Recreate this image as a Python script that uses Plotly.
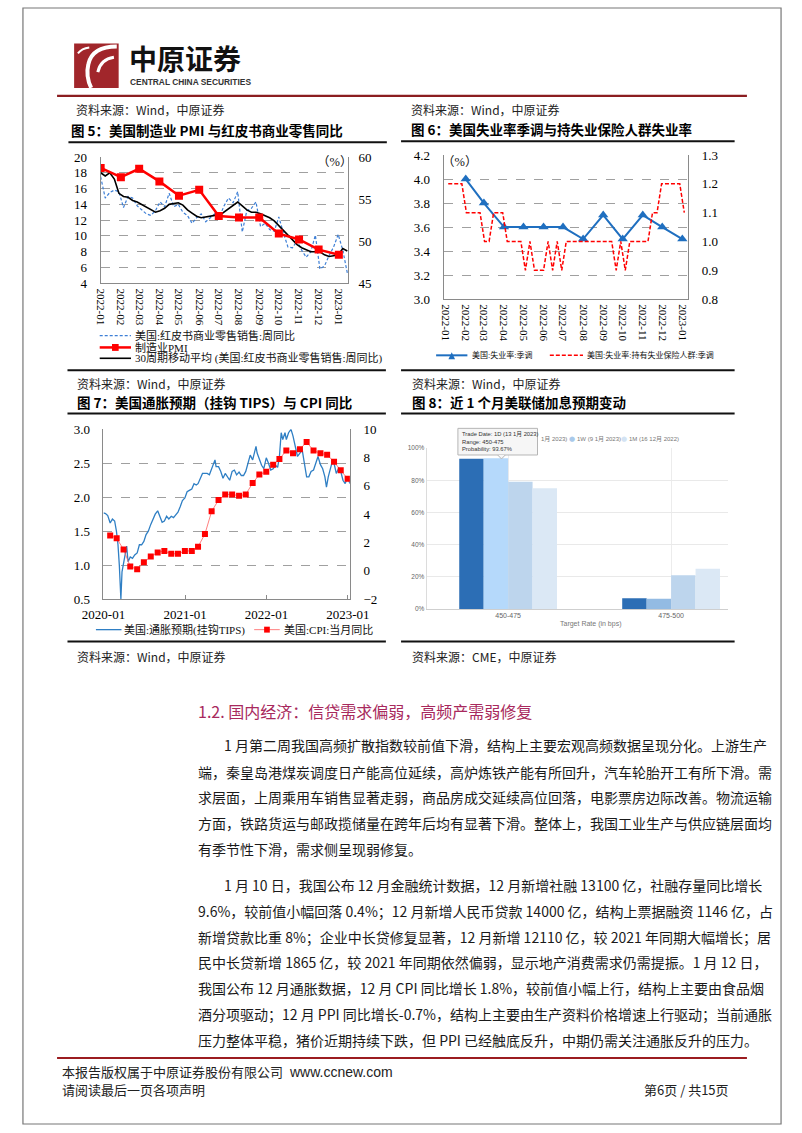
import plotly.graph_objects as go
import pandas as pd

W, H = 802, 1133
def X(px): return px / W
def Y(py): return 1 - py / H

# ---------------- DATA ----------------
# Fig 5: Redbook weekly YoY, its moving average, ISM manufacturing PMI
redbook_dates = pd.date_range('2022-01-01', periods=55, freq='7D')
redbook_yoy = [17.5, 14.8, 15.5, 15.8, 15.6, 13.6, 15.0, 14.8, 13.8, 13.3,
               12.8, 12.6, 13.2, 14.3, 13.7, 15.4, 13.7, 14.0, 13.0, 12.6,
               11.6, 12.3, 12.8, 11.8, 12.3, 12.8, 12.4, 13.8, 14.8, 14.2,
               15.6, 10.5, 13.2, 13.5, 14.3, 11.2, 11.6, 10.8, 10.6, 12.4,
               10.4, 8.6, 8.5, 9.4, 8.2, 7.3, 8.0, 10.1, 5.8, 6.2,
               7.5, 8.6, 10.2, 8.2, 5.3]
redbook_ma30 = [18.0, 17.6, 18.0, 17.2, 15.4, 15.0, 14.9, 14.5, 14.3, 14.0,
                13.7, 13.4, 13.0, 13.2, 13.5, 14.0, 14.1, 14.2, 13.9, 13.3,
                12.9, 12.5, 12.3, 12.4, 12.5, 12.6, 12.6, 13.0, 13.4, 13.8,
                14.3, 13.8, 13.3, 13.0, 13.0, 12.8, 12.6, 12.3, 11.9, 11.3,
                10.7, 10.1, 9.5, 8.9, 8.5, 8.2, 8.0, 8.0, 8.0, 7.6,
                7.4, 7.5, 7.6, 8.4, 8.1]
pmi_dates = pd.date_range('2022-01-01', periods=13, freq='MS')
pmi = [58.7, 57.6, 58.6, 57.1, 55.4, 56.1, 53.0, 52.8, 52.8, 50.9, 50.2, 49.0, 48.4]

# Fig 6: unemployment rate (SA) and insured unemployment rate (SA)
unemp_dates = pd.date_range('2022-02-01', periods=12, freq='MS')
unemp = [4.0, 3.8, 3.6, 3.6, 3.6, 3.6, 3.5, 3.7, 3.5, 3.7, 3.6, 3.5]
insured_dates = pd.date_range('2022-01-05', periods=53, freq='7D')
insured = [1.2, 1.2, 1.2, 1.2, 1.1, 1.1, 1.1, 1.1, 1.0, 1.0,
           1.1, 1.1, 1.1, 1.0, 1.0, 1.0, 1.0, 0.9, 1.0, 0.9,
           0.9, 0.9, 1.0, 0.9, 1.0, 0.9, 1.0, 1.0, 1.0, 1.0,
           1.0, 1.0, 1.0, 1.0, 1.0, 1.0, 1.0, 0.9, 1.0, 0.9,
           1.0, 1.0, 1.0, 1.0, 1.0, 1.1, 1.1, 1.2, 1.2, 1.2,
           1.2, 1.2, 1.1]
month_ticks_22 = pd.date_range('2022-01-01', periods=13, freq='MS')

# Fig 7: TIPS breakeven inflation and CPI YoY
tips_dates = ['2020-01-01', '2020-01-10', '2020-01-20', '2020-01-31', '2020-02-10', '2020-02-20',
              '2020-02-28', '2020-03-06', '2020-03-12', '2020-03-19', '2020-03-24', '2020-03-31',
              '2020-04-08', '2020-04-14', '2020-04-20', '2020-04-30', '2020-05-10', '2020-05-20',
              '2020-05-31', '2020-06-10', '2020-06-20', '2020-06-30', '2020-07-10', '2020-07-20',
              '2020-07-31', '2020-08-10', '2020-08-20', '2020-08-31', '2020-09-10', '2020-09-20',
              '2020-09-30', '2020-10-10', '2020-10-20', '2020-10-31', '2020-11-10', '2020-11-20',
              '2020-11-30', '2020-12-10', '2020-12-20', '2020-12-31', '2021-01-10', '2021-01-20',
              '2021-01-31', '2021-02-10', '2021-02-20', '2021-02-28', '2021-03-10', '2021-03-20',
              '2021-03-31', '2021-04-10', '2021-04-20', '2021-04-30', '2021-05-10', '2021-05-15',
              '2021-05-20', '2021-05-31', '2021-06-10', '2021-06-20', '2021-06-30', '2021-07-10',
              '2021-07-20', '2021-07-31', '2021-08-10', '2021-08-20', '2021-08-31', '2021-09-10',
              '2021-09-20', '2021-09-30', '2021-10-10', '2021-10-20', '2021-10-31', '2021-11-10',
              '2021-11-15', '2021-11-20', '2021-11-30', '2021-12-10', '2021-12-20', '2021-12-31',
              '2022-01-10', '2022-01-20', '2022-01-31', '2022-02-10', '2022-02-20', '2022-02-28',
              '2022-03-08', '2022-03-15', '2022-03-25', '2022-03-31', '2022-04-10', '2022-04-21',
              '2022-04-30', '2022-05-10', '2022-05-20', '2022-05-31', '2022-06-10', '2022-06-20',
              '2022-06-30', '2022-07-10', '2022-07-20', '2022-07-31', '2022-08-10', '2022-08-20',
              '2022-08-31', '2022-09-10', '2022-09-20', '2022-09-27', '2022-10-05', '2022-10-15',
              '2022-10-25', '2022-10-31', '2022-11-10', '2022-11-20', '2022-11-30', '2022-12-10',
              '2022-12-20', '2022-12-31', '2023-01-10']
tips = [1.77, 1.76, 1.73, 1.62, 1.68, 1.65,
        1.50, 1.30, 1.00, 0.50, 0.90, 1.05,
        1.15, 1.28, 1.05, 1.12, 1.10, 1.15,
        1.18, 1.30, 1.30, 1.35, 1.45, 1.50,
        1.60, 1.68, 1.75, 1.80, 1.70, 1.63,
        1.65, 1.72, 1.68, 1.72, 1.70, 1.75,
        1.78, 1.86, 1.95, 1.99, 2.08, 2.10,
        2.12, 2.20, 2.18, 2.20, 2.28, 2.35,
        2.35, 2.35, 2.33, 2.42, 2.50, 2.55,
        2.45, 2.45, 2.38, 2.28, 2.35, 2.30,
        2.25, 2.38, 2.40, 2.33, 2.37, 2.32,
        2.32, 2.38, 2.50, 2.62, 2.55, 2.68,
        2.75, 2.65, 2.55, 2.47, 2.42, 2.58,
        2.50, 2.40, 2.42, 2.47, 2.44, 2.60,
        2.95, 2.85, 2.95, 2.85, 2.95, 3.00,
        2.90, 2.75, 2.60, 2.65, 2.70, 2.50,
        2.30, 2.30, 2.38, 2.40, 2.50, 2.60,
        2.48, 2.42, 2.30, 2.15, 2.30, 2.45,
        2.55, 2.50, 2.35, 2.42, 2.38, 2.25,
        2.20, 2.30, 2.20]
cpi_dates = pd.date_range('2020-01-01', periods=36, freq='MS') + pd.offsets.MonthEnd(0)
cpi = [2.5, 2.3, 1.5, 0.3, 0.1, 0.6, 1.0, 1.3, 1.4, 1.2, 1.2, 1.4,
       1.4, 1.7, 2.6, 4.2, 5.0, 5.4, 5.4, 5.3, 5.4, 6.2, 6.8, 7.0,
       7.5, 7.9, 8.5, 8.3, 8.6, 9.1, 8.5, 8.3, 8.2, 7.7, 7.1, 6.5]
year_ticks = ['2020-01-01', '2021-01-01', '2022-01-01', '2023-01-01']

# Fig 8: CME FedWatch target-rate probabilities (%)
rate_bins = ['450-475', '475-500']
prob_now = [93.3, 6.7]
prob_1d = [93.67, 6.33]
prob_1w = [79.0, 21.0]
prob_1m = [75.1, 24.9]

# ---------------- STYLE ----------------
SERIF = 'Liberation Serif, Noto Sans CJK SC'
CJK = 'Noto Sans CJK SC'
tickf = dict(family='Liberation Serif', size=13, color='black')
datef = dict(family='Liberation Serif', size=11, color='black')
GRID = '#a0a0a0'
AXL = '#8a8a8a'

fig = go.Figure()

# Fig 5 traces
fig.add_trace(go.Scatter(x=redbook_dates, y=redbook_yoy, mode='lines',
                         line=dict(color='#3d7fd6', width=1.2, dash='3px,2px'),
                         xaxis='x', yaxis='y'))
fig.add_trace(go.Scatter(x=redbook_dates, y=redbook_ma30, mode='lines',
                         line=dict(color='black', width=1.6), xaxis='x', yaxis='y'))
fig.add_trace(go.Scatter(x=pmi_dates, y=pmi, mode='lines+markers',
                         line=dict(color='#ff0000', width=2.5),
                         marker=dict(symbol='square', size=8, color='#ff0000'),
                         xaxis='x', yaxis='y2'))
# Fig 6 traces
fig.add_trace(go.Scatter(x=insured_dates, y=insured, mode='lines',
                         line=dict(color='#ff0000', width=1.5, dash='4px,2px'),
                         xaxis='x2', yaxis='y4'))
fig.add_trace(go.Scatter(x=unemp_dates, y=unemp, mode='lines+markers',
                         line=dict(color='#1f6fc0', width=2),
                         marker=dict(symbol='triangle-up', size=9, color='#1f6fc0'),
                         xaxis='x2', yaxis='y3'))
# Fig 7 traces
fig.add_trace(go.Scatter(x=tips_dates, y=tips, mode='lines',
                         line=dict(color='#2f7fc4', width=1.3), xaxis='x3', yaxis='y5'))
fig.add_trace(go.Scatter(x=cpi_dates, y=cpi, mode='lines+markers',
                         line=dict(color='#ff6060', width=0.8),
                         marker=dict(symbol='square', size=6, color='#ff0000'),
                         xaxis='x3', yaxis='y6'))
# Fig 8 bars
for vals, col in [(prob_now, '#2c6eb5'), (prob_1d, ['#b5d9fb', '#93bbe3']),
                  (prob_1w, '#bdd5ed'), (prob_1m, '#dbe8f5')]:
    fig.add_trace(go.Bar(x=rate_bins, y=vals, marker=dict(color=col, line=dict(width=0)),
                         xaxis='x4', yaxis='y7'))

common_y = dict(zeroline=False, showline=True, linecolor=AXL, linewidth=1, tickfont=tickf,
                ticks='')
layout = dict(
    autosize=True, margin=dict(l=0, r=0, t=0, b=0, pad=0),
    paper_bgcolor='white', plot_bgcolor='white', showlegend=False,
    barmode='group', bargap=0.4, bargroupgap=0,
    # Fig 5
    xaxis=dict(domain=[X(83), X(344)], anchor='y', type='date',
               range=['2022-01-01', '2023-01-15'], tickvals=list(month_ticks_22),
               tickformat='%Y-%m', tickangle=90, tickfont=datef, showline=True,
               linecolor=AXL, showgrid=False, zeroline=False, ticks='', ticklabelstandoff=2),
    yaxis=dict(domain=[Y(280), Y(152)], anchor='x', range=[4, 20], dtick=2,
               showgrid=True, gridcolor=GRID, griddash='dash', ticklabelstandoff=10, **common_y),
    yaxis2=dict(overlaying='y', side='right', anchor='x', range=[45, 60], dtick=5,
                showgrid=False, ticklabelstandoff=7, **common_y),
    # Fig 6
    xaxis2=dict(domain=[X(445), X(703)], anchor='y3', type='date',
                range=['2021-12-29', '2023-01-10'], tickvals=list(month_ticks_22),
                tickformat='%Y-%m', tickangle=90, tickfont=datef, showline=True,
                linecolor=AXL, showgrid=False, zeroline=False, ticks='', ticklabelstandoff=2),
    yaxis3=dict(domain=[Y(296), Y(150)], anchor='x2', range=[3.0, 4.2], dtick=0.2,
                tickformat='.1f', showgrid=True, gridcolor=GRID, griddash='dash',
                ticklabelstandoff=10, **common_y),
    yaxis4=dict(overlaying='y3', side='right', anchor='x2', range=[0.8, 1.3], dtick=0.1,
                tickformat='.1f', showgrid=False, ticklabelstandoff=10, **common_y),
    # Fig 7
    xaxis3=dict(domain=[X(86), X(346)], anchor='y5', type='date',
                range=['2020-01-01', '2023-01-10'], tickvals=year_ticks,
                tickformat='%Y-%m', tickangle=0,
                tickfont=dict(family='Liberation Serif', size=13, color='black'),
                showline=True, linecolor=AXL, showgrid=False, zeroline=False,
                ticks='inside', ticklen=4, tickcolor=AXL, ticklabelstandoff=3),
    yaxis5=dict(domain=[Y(600), Y(428)], anchor='x3', range=[0.5, 3.0], dtick=0.5,
                tickformat='.1f', showgrid=True, gridcolor=GRID, griddash='dash',
                ticklabelstandoff=10, **common_y),
    yaxis6=dict(overlaying='y5', side='right', anchor='x3', range=[-2, 10], dtick=2,
                showgrid=False, ticklabelstandoff=10, **common_y),
    # Fig 8
    xaxis4=dict(domain=[X(427), X(745)], anchor='y7', type='category', range=[-0.5, 1.349],
                tickfont=dict(family='Liberation Sans', size=7, color='#666'), showline=True,
                linecolor='#cfcfcf', showgrid=True, gridcolor='#ececec', ticks='', zeroline=False),
    yaxis7=dict(domain=[Y(610), Y(447)], anchor='x4', range=[0, 100], dtick=20, ticksuffix='%',
                tickfont=dict(family='Liberation Sans', size=6.5, color='#666'), showgrid=True,
                gridcolor='#e9e9e9', showline=True, linecolor='#dcdcdc', zeroline=False, ticks=''),
)
fig.update_layout(**layout)

shapes = []
annos = []

def hline(x0, x1, y, color='#111', width=2, dash=None):
    d = dict(type='line', xref='paper', yref='paper', x0=X(x0), x1=X(x1), y0=Y(y), y1=Y(y),
             line=dict(color=color, width=width))
    if dash:
        d['line']['dash'] = dash
    shapes.append(d)

def rect(x0, y0, x1, y1, fill, line=None, lw=0):
    shapes.append(dict(type='rect', xref='paper', yref='paper', x0=X(x0), x1=X(x1),
                       y0=Y(y1), y1=Y(y0), fillcolor=fill,
                       line=dict(color=line or fill, width=lw)))

def path(pts, color, width=0, fill=None, close=False):
    s = 'M ' + ' L '.join(f'{X(a):.5f},{Y(b):.5f}' for a, b in pts)
    if close:
        s += ' Z'
    shapes.append(dict(type='path', xref='paper', yref='paper', path=s,
                       fillcolor=fill if fill else 'rgba(0,0,0,0)',
                       line=dict(color=color, width=width)))

def qpath(cmds, color, width):
    parts = []
    for c in cmds:
        if c[0] == 'M':
            parts.append(f'M {X(c[1]):.5f},{Y(c[2]):.5f}')
        else:
            parts.append(f'Q {X(c[1]):.5f},{Y(c[2]):.5f} {X(c[3]):.5f},{Y(c[4]):.5f}')
    shapes.append(dict(type='path', xref='paper', yref='paper', path=' '.join(parts),
                       line=dict(color=color, width=width)))

def txt(x, y, s, size=12, color='#111', family=CJK, xanchor='left', yanchor='middle', align='left'):
    annos.append(dict(xref='paper', yref='paper', x=X(x), y=Y(y), text=s, showarrow=False,
                      xanchor=xanchor, yanchor=yanchor, align=align, borderpad=0,
                      font=dict(size=size, color=color, family=family)))

# page border
shapes.append(dict(type='rect', xref='paper', yref='paper', x0=X(1), x1=X(801), y0=Y(1132), y1=Y(1),
                   line=dict(color='#777', width=1.2)))

# header logo
rect(55, 37, 102, 82, '#a1262b')
qpath([('M', 100, 40), ('Q', 74, 40, 70, 58), ('Q', 67, 70, 73, 82)], 'white', 4)
qpath([('M', 97, 51), ('Q', 83, 53, 80, 66)], 'white', 3)
qpath([('M', 59, 47), ('Q', 63, 42, 71, 41)], 'white', 2)
txt(112, 52, '<b>中原证券</b>', size=28, color='#111', family=CJK)
txt(113, 76.5, '<b>CENTRAL CHINA SECURITIES</b>', size=8.4, color='#333', family='Liberation Sans')
hline(37, 765, 90, color='#8b1d20', width=2.2)

# row 1 captions
txt(56, 104, '资料来源：Wind，中原证券', size=12, color='#222')
txt(409, 104, '资料来源：Wind，中原证券', size=12, color='#222')
txt(51, 125, '<b>图 5：美国制造业 PMI 与红皮书商业零售同比</b>', size=13.5, color='#000')
txt(409, 124, '<b>图 6：美国失业率季调与持失业保险人群失业率</b>', size=13.5, color='#000')
hline(49, 385, 137)
hline(400, 752, 136)

# Fig 5 extras
txt(330, 157, '（%）', size=12.5, color='#111', family=SERIF, xanchor='center')
hline(82, 115, 333, color='#3d7fd6', width=1.2, dash='3px,2px')
hline(82, 115, 345, color='#ff0000', width=2.5)
rect(95, 341.5, 102, 348.5, '#ff0000')
hline(82, 115, 356, color='black', width=1.6)
txt(118, 333, '美国:红皮书商业零售销售:周同比', size=11, family=SERIF)
txt(118, 345, '制造业PMI', size=11, family=SERIF)
txt(118, 356, '30周期移动平均 (美国:红皮书商业零售销售:周同比)', size=11, family=SERIF)

# Fig 6 extras
txt(462, 157, '（%）', size=12.5, color='#111', family=SERIF, xanchor='center')
hline(437, 470, 353, color='#1f6fc0', width=2)
path([(450, 357), (457, 357), (453.5, 350)], '#1f6fc0', 0, fill='#1f6fc0', close=True)
txt(474, 353, '美国:失业率:季调', size=8, family=SERIF)
hline(557, 592, 353, color='#ff0000', width=1.5, dash='4px,2px')
txt(595, 353, '美国:失业率:持有失业保险人群:季调', size=8, family=SERIF)

hline(48, 384, 368)
hline(400, 752, 368)

# row 2 captions
txt(57, 382, '资料来源：Wind，中原证券', size=12, color='#222')
txt(410, 382, '资料来源：Wind，中原证券', size=12, color='#222')
txt(57, 400, '<b>图 7：美国通胀预期（挂钩 TIPS）与 CPI 同比</b>', size=13.5, color='#000')
txt(410, 400, '<b>图 8：近 1 个月美联储加息预期变动</b>', size=13.5, color='#000')
hline(48, 384, 412)
hline(400, 752, 412)

# Fig 7 legend
hline(78, 105, 631, color='#2f7fc4', width=1.3)
txt(107, 631, '美国:通胀预期(挂钩TIPS)', size=11, family=SERIF)
hline(245, 272, 631, color='#ff6060', width=0.8)
rect(255.5, 628, 261.5, 634, '#ff0000')
txt(275, 631, '美国:CPI:当月同比', size=11, family=SERIF)

# Fig 8 extras
LF = 'Liberation Sans, Noto Sans CJK SC'
txt(600, 625, 'Target Rate (in bps)', size=7, color='#777', family=LF, xanchor='center')
txt(547, 438, '1月 2023)', size=6, color='#777', family=LF)
txt(580, 438, '●', size=7, color='#a9c9ea', family='DejaVu Sans', xanchor='center')
txt(585, 438, '1W (9 1月 2023)', size=6, color='#777', family=LF)
txt(635, 438, '●', size=7, color='#d3e3f3', family='DejaVu Sans', xanchor='center')
txt(640, 438, '1M (16 12月 2022)', size=6, color='#777', family=LF)
rect(460, 427, 544, 454, '#f6f6f6', line='#b5b5b5', lw=1)
path([(502, 454), (506, 458), (510, 454)], '#b5b5b5', 1, fill='#f6f6f6')
txt(463, 429, 'Trade Date: 1D (13 1月 2023)<br>Range: 450-475<br>Probability: 93.67%',
    size=5.8, color='#333', family=LF, yanchor='top')

hline(48, 384, 643)
hline(400, 752, 643)
txt(57, 658, '资料来源：Wind，中原证券', size=12, color='#222')
txt(410, 658, '资料来源：CME，中原证券', size=12, color='#222')

# section title & body text
txt(185, 713, '1.2. 国内经济：信贷需求偏弱，高频产需弱修复', size=16, color='#a8295d')
body = [
    (212, 748, '1 月第二周我国高频扩散指数较前值下滑，结构上主要宏观高频数据呈现分化。上游生产'),
    (185, 775, '端，秦皇岛港煤炭调度日产能高位延续，高炉炼铁产能有所回升，汽车轮胎开工有所下滑。需'),
    (185, 801, '求层面，上周乘用车销售显著走弱，商品房成交延续高位回落，电影票房边际改善。物流运输'),
    (185, 827, '方面，铁路货运与邮政揽储量在跨年后均有显著下滑。整体上，我国工业生产与供应链层面均'),
    (185, 853, '有季节性下滑，需求侧呈现弱修复。'),
    (212, 890, '1 月 10 日，我国公布 12 月金融统计数据，12 月新增社融 13100 亿，社融存量同比增长'),
    (185, 916, '9.6%，较前值小幅回落 0.4%；12 月新增人民币贷款 14000 亿，结构上票据融资 1146 亿，占'),
    (185, 942, '新增贷款比重 8%；企业中长贷修复显著，12 月新增 12110 亿，较 2021 年同期大幅增长；居'),
    (185, 968, '民中长贷新增 1865 亿，较 2021 年同期依然偏弱，显示地产消费需求仍需提振。1 月 12 日，'),
    (185, 994, '我国公布 12 月通胀数据，12 月 CPI 同比增长 1.8%，较前值小幅上行，结构上主要由食品烟'),
    (185, 1021, '酒分项驱动；12 月 PPI 同比增长-0.7%，结构上主要由生产资料价格增速上行驱动；当前通胀'),
    (185, 1047, '压力整体平稳，猪价近期持续下跌，但 PPI 已经触底反升，中期仍需关注通胀反升的压力。'),
]
for x, y, s in body:
    txt(x, y, s, size=14, color='#1a1a1a')

# footer
hline(37, 765, 1065, color='#9b1c20', width=2)
txt(41, 1079, '本报告版权属于中原证券股份有限公司', size=13, color='#222')
txt(281, 1079, 'www.ccnew.com', size=14, color='#222', family='Liberation Sans')
txt(41, 1097, '请阅读最后一页各项声明', size=13, color='#222')
txt(747, 1097, '第6页 / 共15页', size=13, color='#222', xanchor='right')

fig.update_layout(shapes=shapes, annotations=annos)
fig.write_html('out.html',
               default_width='802px',
               default_height='1133px; position:absolute; left:0; top:0',
               post_script="document.body.style.margin='0';")
